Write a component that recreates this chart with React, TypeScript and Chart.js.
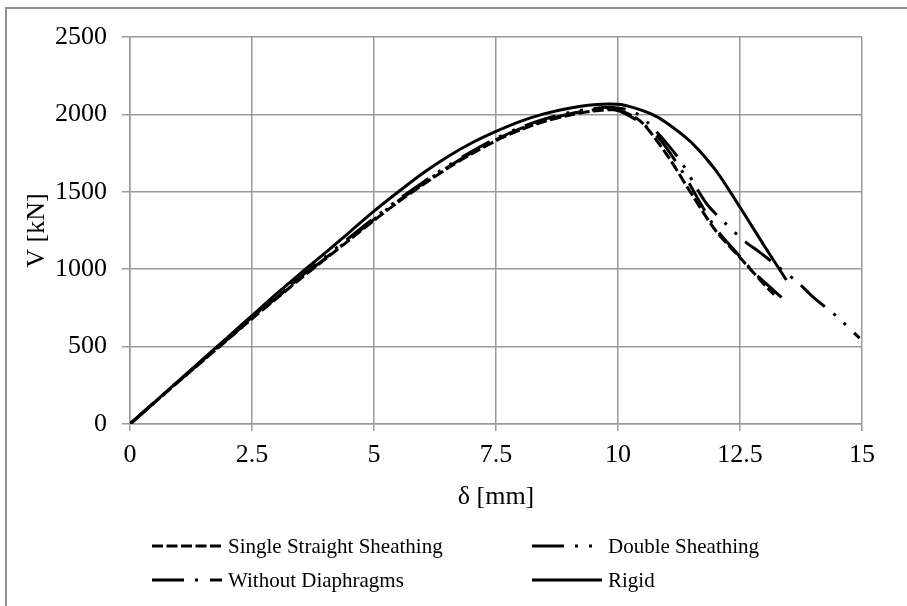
import React, { useEffect, useRef } from "react";
import { Chart, registerables } from "chart.js";

Chart.register(...registerables);

// ---- Data (δ [mm] vs V [kN]) ----
const singleX = [0, 0.5, 1, 1.5, 2, 2.5, 3, 3.5, 4, 4.5, 5, 5.5, 6, 6.5, 7, 7.5, 8, 8.5, 9, 9.5, 9.9, 10.2, 10.5, 11, 11.5, 12, 12.5, 13, 13.2];
const singleV = [0, 138, 275, 410, 545, 680, 810, 940, 1065, 1190, 1315, 1435, 1545, 1650, 1745, 1830, 1900, 1955, 1995, 2022, 2030, 2005, 1945, 1740, 1490, 1250, 1075, 900, 835];

const doubleX = [0, 0.5, 1, 1.5, 2, 2.5, 3, 3.5, 4, 4.5, 5, 5.5, 6, 6.5, 7, 7.5, 8, 8.5, 9, 9.5, 9.9, 10.3, 10.6, 11, 11.3, 11.8, 12.2, 12.6, 12.9, 13.3, 13.7, 14, 14.5, 14.95];
const doubleV = [0, 140, 280, 415, 552, 690, 822, 952, 1080, 1205, 1330, 1450, 1560, 1665, 1760, 1845, 1915, 1970, 2012, 2038, 2045, 2020, 1950, 1813, 1690, 1430, 1296, 1180, 1110, 1012, 910, 820, 690, 555];

const withoutX = [0, 0.5, 1, 1.5, 2, 2.5, 3, 3.5, 4, 4.5, 5, 5.5, 6, 6.5, 7, 7.5, 8, 8.5, 9, 9.5, 9.9, 10.4, 10.8, 11.3, 11.7, 12, 12.35, 12.8, 13.2, 13.45];
const withoutV = [0, 139, 277, 412, 548, 685, 815, 945, 1070, 1195, 1322, 1442, 1552, 1657, 1752, 1838, 1908, 1962, 2003, 2030, 2037, 1960, 1860, 1640, 1420, 1265, 1135, 975, 860, 790];

const rigidX = [0, 0.5, 1, 1.5, 2, 2.5, 3, 3.5, 4, 4.5, 5, 5.5, 6, 6.5, 7, 7.5, 8, 8.5, 9, 9.5, 10, 10.3, 10.7, 11, 11.5, 12, 12.5, 13, 13.45];
const rigidV = [0, 140, 280, 420, 560, 700, 840, 975, 1105, 1240, 1375, 1500, 1620, 1725, 1815, 1890, 1955, 2005, 2040, 2062, 2065, 2045, 2000, 1945, 1820, 1640, 1400, 1150, 930];

const seriesNames = ["Single Straight Sheathing", "Double Sheathing", "Without Diaphragms", "Rigid"];
const seriesDashes: number[][] = [[11, 3.5], [32, 11, 3, 11, 3, 11], [32, 11, 3, 12], []];

const xTicks = [0, 2.5, 5, 7.5, 10, 12.5, 15];
const yTicks = [0, 500, 1000, 1500, 2000, 2500];
const xTitle = "δ [mm]";
const yTitle = "V [kN]";

const FONT = "'Liberation Serif', 'Times New Roman', serif";
const GRID = "#9a9a9a";

function toPoints(xs: number[], ys: number[]) {
  return xs.map((x, i) => ({ x, y: ys[i] }));
}

const legendPlugin = {
  id: "customLegend",
  afterDraw(chart: any) {
    const ctx = chart.ctx as CanvasRenderingContext2D;
    const items = [
      { col: 0, row: 0, i: 0 },
      { col: 1, row: 0, i: 1 },
      { col: 0, row: 1, i: 2 },
      { col: 1, row: 1, i: 3 },
    ];
    const colX = [152, 532];
    const rowY = [546, 580];
    const lineLen = 70;
    ctx.save();
    ctx.font = `21px ${FONT}`;
    ctx.fillStyle = "#000";
    ctx.textBaseline = "middle";
    ctx.textAlign = "left";
    for (const it of items) {
      const x0 = colX[it.col];
      const y = rowY[it.row];
      ctx.beginPath();
      ctx.setLineDash(seriesDashes[it.i]);
      ctx.lineDashOffset = 0;
      ctx.lineWidth = 3;
      ctx.lineCap = "butt";
      ctx.strokeStyle = "#000";
      ctx.moveTo(x0, y);
      ctx.lineTo(x0 + lineLen, y);
      ctx.stroke();
      ctx.setLineDash([]);
      ctx.fillText(seriesNames[it.i], x0 + lineLen + 6, y + 1);
    }
    ctx.restore();
  },
};

export default function App() {
  const ref = useRef<HTMLCanvasElement | null>(null);

  useEffect(() => {
    if (!ref.current) return;
    Chart.defaults.font.family = FONT;
    const xs = [singleX, doubleX, withoutX, rigidX];
    const ys = [singleV, doubleV, withoutV, rigidV];
    const chart = new Chart(ref.current, {
      type: "scatter",
      data: {
        datasets: seriesNames.map((name, i) => ({
          label: name,
          data: toPoints(xs[i], ys[i]),
          showLine: true,
          borderColor: "#000",
          backgroundColor: "#000",
          borderWidth: 3,
          borderDash: seriesDashes[i],
          borderCapStyle: "butt",
          borderJoinStyle: "round",
          pointRadius: 0,
          pointHoverRadius: 0,
          tension: 0.3,
        })),
      },
      options: {
        responsive: false,
        animation: false,
        devicePixelRatio: 1,
        layout: { padding: { left: 0, right: 45, top: 37, bottom: 82 } },
        plugins: {
          legend: { display: false },
          tooltip: { enabled: false },
        },
        scales: {
          x: {
            type: "linear",
            min: 0,
            max: 15,
            afterFit(scale: any) {
              scale.height = 100;
            },
            afterBuildTicks(scale: any) {
              scale.ticks = xTicks.map((v) => ({ value: v }));
            },
            ticks: {
              color: "#000",
              font: { size: 26 },
              padding: 9,
              maxRotation: 0,
              callback: (v: any) => String(v),
            },
            grid: { color: GRID, lineWidth: 1.5, tickLength: 7, drawTicks: true },
            border: { color: GRID, width: 1.5 },
            title: {
              display: true,
              text: xTitle,
              color: "#000",
              font: { size: 26 },
              padding: { top: 0, bottom: 11 },
            },
          },
          y: {
            type: "linear",
            min: 0,
            max: 2500,
            afterFit(scale: any) {
              scale.width = 130;
            },
            afterBuildTicks(scale: any) {
              scale.ticks = yTicks.map((v) => ({ value: v }));
            },
            ticks: {
              color: "#000",
              font: { size: 26 },
              padding: 15,
              callback: (v: any) => String(v),
            },
            grid: { color: GRID, lineWidth: 1.5, tickLength: 8, drawTicks: true },
            border: { color: GRID, width: 1.5 },
            title: {
              display: true,
              text: yTitle,
              color: "#000",
              font: { size: 26 },
              padding: { top: 22, bottom: 0 },
            },
          },
        },
      },
      plugins: [legendPlugin],
    } as any);
    return () => chart.destroy();
  }, []);

  return (
    <div
      style={{
        position: "fixed",
        left: 0,
        top: 0,
        width: 907,
        height: 606,
        overflow: "hidden",
        background: "#fff",
      }}
    >
      <div
        style={{
          position: "absolute",
          left: 5,
          top: 7,
          width: 1200,
          height: 1200,
          border: "2px solid #8f8f8f",
          boxSizing: "border-box",
        }}
      />
      <canvas
        ref={ref}
        width={907}
        height={606}
        style={{ position: "absolute", left: 0, top: 0, width: 907, height: 606 }}
      />
    </div>
  );
}
